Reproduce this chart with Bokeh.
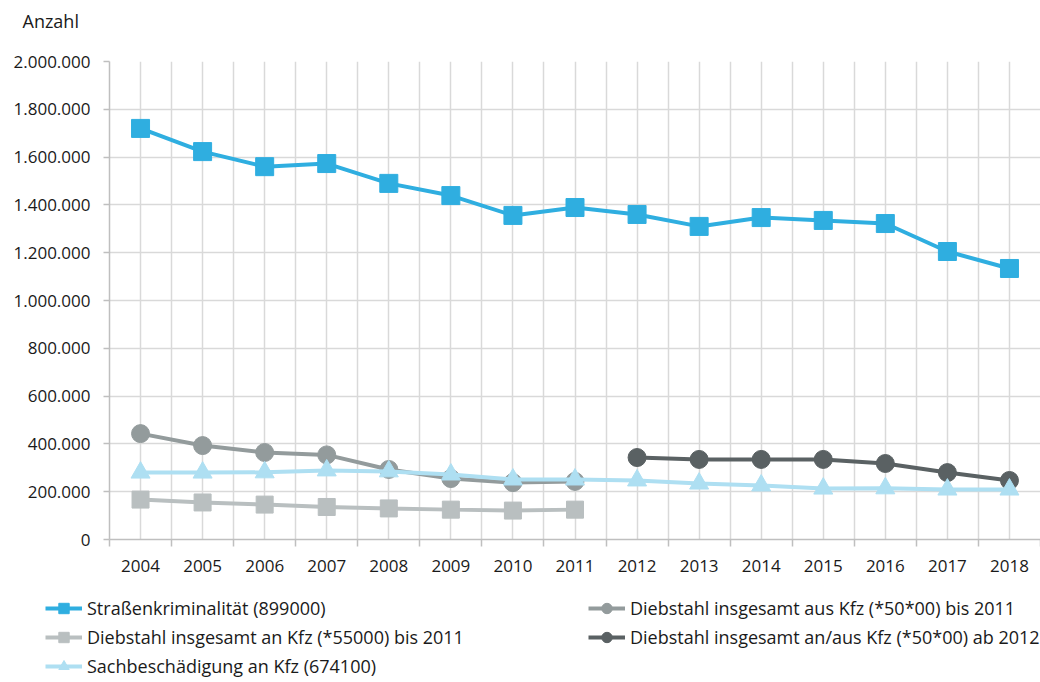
from bokeh.plotting import figure
from bokeh.layouts import column
from bokeh.models import (FixedTicker, CustomJSTickFormatter, Range1d, Legend, LegendItem, Label)
from bokeh.embed import file_html
from bokeh.resources import INLINE

# ---- data ----
years_all = [2004, 2005, 2006, 2007, 2008, 2009, 2010, 2011, 2012, 2013, 2014, 2015, 2016, 2017, 2018]
years_to_2011 = [2004, 2005, 2006, 2007, 2008, 2009, 2010, 2011]
years_from_2012 = [2012, 2013, 2014, 2015, 2016, 2017, 2018]

strassenkriminalitaet = [1720000, 1623000, 1560000, 1573000, 1490000, 1439000, 1356000, 1389000,
                         1360000, 1310000, 1347000, 1335000, 1322000, 1205000, 1134000]
diebstahl_aus_kfz = [443000, 393000, 364000, 354000, 293000, 255000, 238000, 243000]
diebstahl_an_kfz = [167000, 155000, 146000, 136000, 130000, 125000, 121000, 125000]
diebstahl_an_aus_kfz = [343000, 335000, 335000, 335000, 318000, 280000, 247000]
sachbeschaedigung = [280000, 280000, 281000, 289000, 285000, 272000, 251000, 251000,
                     247000, 234000, 226000, 213000, 214000, 209000, 209000]

y_ticks = [0, 200000, 400000, 600000, 800000, 1000000, 1200000, 1400000, 1600000, 1800000, 2000000]

labels = ["Straßenkriminalität (899000)",
          "Diebstahl insgesamt aus Kfz (*50*00) bis 2011",
          "Diebstahl insgesamt an Kfz (*55000) bis 2011",
          "Diebstahl insgesamt an/aus Kfz (*50*00) ab 2012",
          "Sachbeschädigung an Kfz (674100)"]
y_title = "Anzahl"

FONT = "Open Sans"
TEXT = "#1a1a1a"
GRID = "#d9d9d9"

# ---- top strip with the axis title ----
pt = figure(width=1040, height=40, output_backend="svg", toolbar_location=None,
            min_border=0, x_range=Range1d(0, 1), y_range=Range1d(0, 1))
pt.axis.visible = False
pt.grid.visible = False
pt.outline_line_color = None
pt.frame_align = False
pt.add_layout(Label(x=22, y=20, x_units="screen", y_units="screen", text=y_title,
                    text_font=FONT, text_font_size="18px", text_color=TEXT,
                    text_baseline="middle"))

# ---- main chart ----
p = figure(frame_width=931, frame_height=478, output_backend="svg", toolbar_location=None,
           x_range=Range1d(years_all[0] - 0.5, years_all[-1] + 0.5),
           y_range=Range1d(y_ticks[0], y_ticks[-1]),
           min_border_left=109, min_border_right=0, min_border_top=21, min_border_bottom=45)
p.outline_line_color = None
p.background_fill_color = "white"
p.frame_align = False

half = [y - 0.5 for y in years_all] + [years_all[-1] + 0.5]
p.xaxis.ticker = FixedTicker(ticks=years_all, minor_ticks=half)
p.yaxis.ticker = FixedTicker(ticks=y_ticks)
p.yaxis.formatter = CustomJSTickFormatter(
    code="return Math.round(tick).toString().replace(/\\B(?=(\\d{3})+(?!\\d))/g, '.');")
for ax in (p.xaxis[0], p.yaxis[0]):
    ax.axis_line_color = "#bfbfbf"
    ax.axis_line_width = 1.5
    ax.major_label_text_font = FONT
    ax.major_label_text_font_size = "17px"
    ax.major_label_text_color = TEXT
p.xaxis.major_tick_line_color = None
p.xaxis.major_tick_out = 0
p.xaxis.major_tick_in = 0
p.xaxis.minor_tick_line_color = "#bfbfbf"
p.xaxis.minor_tick_line_width = 1.5
p.xaxis.minor_tick_in = 0
p.xaxis.minor_tick_out = 7
p.xaxis.major_label_standoff = 13
p.yaxis.major_tick_line_color = "#bfbfbf"
p.yaxis.major_tick_line_width = 1.5
p.yaxis.major_tick_in = 0
p.yaxis.major_tick_out = 6
p.yaxis.minor_tick_line_color = None
p.yaxis.major_label_standoff = 13

p.xgrid.grid_line_color = GRID
p.xgrid.grid_line_width = 1.5
p.xgrid.minor_grid_line_color = GRID
p.xgrid.minor_grid_line_width = 1.5
p.ygrid.grid_line_color = GRID
p.ygrid.grid_line_width = 1.5

series = [
    (years_all, strassenkriminalitaet, "#2faee0", "square", 18),
    (years_to_2011, diebstahl_aus_kfz, "#939b9c", "circle", 18),
    (years_to_2011, diebstahl_an_kfz, "#b9bfc0", "square", 17),
    (years_from_2012, diebstahl_an_aus_kfz, "#5a6163", "circle", 18),
    (years_all, sachbeschaedigung, "#aedff2", "triangle", 19),
]
draw_order = [2, 1, 3, 4, 0]
for i in draw_order:
    xs, ys, col, mk, sz = series[i]
    p.line(xs, ys, line_color=col, line_width=4)
    p.scatter(xs, ys, marker=mk, size=sz, fill_color=col, line_color=col)

# ---- legend strip: same series, drawn outside its visible range, used only for legend entries ----
pl = figure(width=1040, height=98, output_backend="svg", toolbar_location=None,
            min_border=0, x_range=Range1d(0, 1), y_range=Range1d(0, 1))
pl.axis.visible = False
pl.grid.visible = False
pl.outline_line_color = None
pl.frame_align = False
leg_r = {}
for i, (xs, ys, col, mk, sz) in enumerate(series):
    l = pl.line(xs, ys, line_color=col, line_width=4)
    s = pl.scatter(xs, ys, marker=mk, size=sz, fill_color=col, line_color=col)
    leg_r[i] = [l, s]

order = [0, 2, 4, 1, 3]
items = [LegendItem(label=labels[i], renderers=leg_r[i]) for i in order]
legend = Legend(items=items, ncols=2, location=(45, 3),
                label_text_font=FONT, label_text_font_size="18px", label_text_color=TEXT,
                glyph_width=37, glyph_height=26, label_height=26, label_standoff=5,
                spacing=3, label_width=498, padding=0, margin=0,
                border_line_color=None, background_fill_alpha=0)
pl.add_layout(legend)

layout = column(pt, p, pl, spacing=0)
open("out.html", "w").write(file_html(layout, INLINE))
